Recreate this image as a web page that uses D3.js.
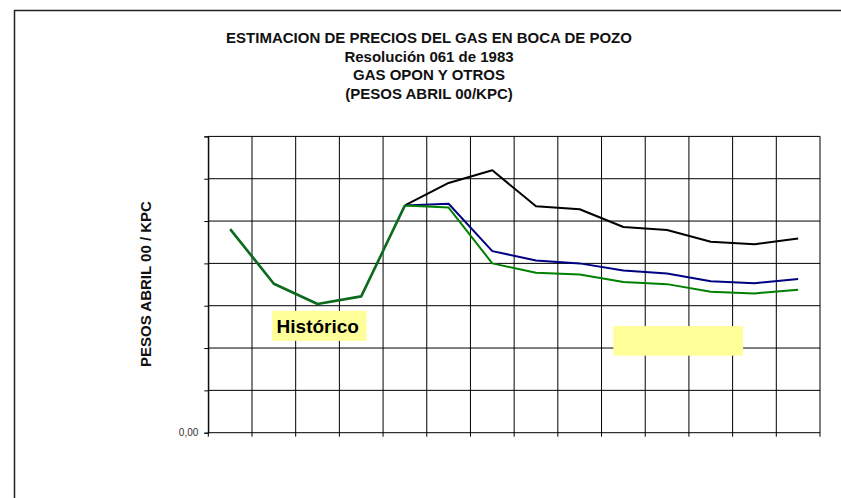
<!DOCTYPE html>
<html>
<head>
<meta charset="utf-8">
<script src="https://cdn.jsdelivr.net/npm/d3@7"></script>
<style>
  body { margin: 0; background: #fff; }
  svg { display: block; font-family: Arial, "Liberation Sans", sans-serif; }
</style>
</head>
<body>
<div id="chart"></div>
<script>
// categorias (anos), historico hasta 2000, proyecciones 2000-2009
var years = ["1996", "1997", "1998", "1999", "2000", "2001", "2002",
             "2003", "2004", "2005", "2006", "2007", "2008", "2009"];
var histYears = ["1996", "1997", "1998", "1999", "2000"];
var projYears = ["2000", "2001", "2002", "2003", "2004", "2005", "2006", "2007", "2008", "2009"];

var historico = [4.81, 3.52, 3.04, 3.22, 5.37];
var escAlto   = [5.37, 5.90, 6.20, 5.35, 5.28, 4.86, 4.79, 4.51, 4.45, 4.59];
var escMedio  = [5.37, 5.41, 4.29, 4.07, 4.00, 3.83, 3.76, 3.58, 3.53, 3.63];
var escBajo   = [5.37, 5.32, 4.00, 3.78, 3.74, 3.56, 3.51, 3.33, 3.29, 3.38];

var yTicks = [0, 1, 2, 3, 4, 5, 6, 7];

var titleLines = ["ESTIMACION DE PRECIOS DEL GAS EN BOCA DE POZO",
                  "Resolución 061 de 1983",
                  "GAS OPON Y OTROS",
                  "(PESOS ABRIL 00/KPC)"];

var W = 841, H = 498;
var margin = {top: 136.4, right: 21, bottom: 65.3, left: 208.3},
    width = W - margin.left - margin.right,
    height = H - margin.top - margin.bottom;

var svg = d3.select("#chart").append("svg")
    .attr("width", W)
    .attr("height", H);

// marco exterior
svg.append("rect")
    .attr("x", 14.5).attr("y", 10.5)
    .attr("width", 900).attr("height", 600)
    .attr("fill", "none")
    .attr("stroke", "#222")
    .attr("stroke-width", 1.5);

// titulo
svg.append("g").selectAll("text")
    .data(titleLines)
  .enter().append("text")
    .attr("x", 429)
    .attr("y", function(d, i) { return 43 + i * 18.5; })
    .attr("text-anchor", "middle")
    .style("font-size", "15px")
    .style("font-weight", "bold")
    .style("fill", "#111")
    .text(function(d) { return d; });

var g = svg.append("g")
    .attr("transform", "translate(" + margin.left + "," + margin.top + ")");

var x = d3.scaleBand()
    .domain(years)
    .range([0, width])
    .padding(0);

var y = d3.scaleLinear()
    .domain([0, 7])
    .range([height, 0]);

// posicion continua sobre el eje de categorias (para los recuadros)
var xi = d3.scaleLinear().domain([0, years.length]).range([0, width]);

// grilla
g.append("g").selectAll("line")
    .data(yTicks)
  .enter().append("line")
    .attr("x1", 0).attr("x2", width)
    .attr("y1", function(d) { return y(d); })
    .attr("y2", function(d) { return y(d); })
    .attr("stroke", "#000")
    .attr("stroke-width", 1);

g.append("g").selectAll("line")
    .data(d3.range(years.length + 1))
  .enter().append("line")
    .attr("x1", function(d) { return xi(d); })
    .attr("x2", function(d) { return xi(d); })
    .attr("y1", 0).attr("y2", height + 4)
    .attr("stroke", "#000")
    .attr("stroke-width", 1);

// eje y
var yAxis = d3.axisLeft(y)
    .tickValues(yTicks)
    .tickSize(4)
    .tickPadding(6)
    .tickFormat(function(d) { return d === 0 ? "0,00" : ""; });

var ya = g.append("g").call(yAxis);
ya.select(".domain").attr("stroke", "#000");
ya.selectAll(".tick line").attr("stroke", "#000");
ya.selectAll("text")
    .style("font-size", "10px")
    .style("fill", "#333")
    .style("font-family", "Arial, 'Liberation Sans', sans-serif");

svg.append("text")
    .attr("transform", "translate(150.5,284) rotate(-90)")
    .attr("text-anchor", "middle")
    .style("font-size", "15px")
    .style("font-weight", "bold")
    .style("fill", "#111")
    .text("PESOS ABRIL 00 / KPC");

// recuadros amarillos
var boxes = [
  {x0: 1.46, x1: 3.62, y0: 2.88, y1: 2.17, label: "Histórico"},
  {x0: 9.27, x1: 12.24, y0: 2.52, y1: 1.82, label: ""}
];

boxes.forEach(function(b) {
  g.append("rect")
      .attr("x", xi(b.x0))
      .attr("y", y(b.y0))
      .attr("width", xi(b.x1) - xi(b.x0))
      .attr("height", y(b.y1) - y(b.y0))
      .attr("fill", "#ffff99");
  if (b.label) {
    g.append("text")
        .attr("x", xi(b.x0) + 4.5)
        .attr("y", y(b.y1) - 8.3)
        .style("font-size", "19px")
        .style("font-weight", "bold")
        .style("fill", "#000")
        .text(b.label);
  }
});

// lineas
var line = d3.line()
    .x(function(d) { return x(d.year) + x.bandwidth() / 2; })
    .y(function(d) { return y(d.value); });

function pairs(ys, vals) {
  return ys.map(function(yr, i) { return {year: yr, value: vals[i]}; });
}

var series = [
  {values: pairs(projYears, escAlto),  color: "#000000", w: 2},
  {values: pairs(projYears, escMedio), color: "#000080", w: 2},
  {values: pairs(projYears, escBajo),  color: "#008000", w: 2},
  {values: pairs(histYears, historico), color: "#0b6a1e", w: 2.6}
];

series.forEach(function(s) {
  g.append("path")
      .attr("d", line(s.values))
      .attr("fill", "none")
      .attr("stroke", s.color)
      .attr("stroke-width", s.w)
      .attr("stroke-linejoin", "round");
});
</script>
</body>
</html>
